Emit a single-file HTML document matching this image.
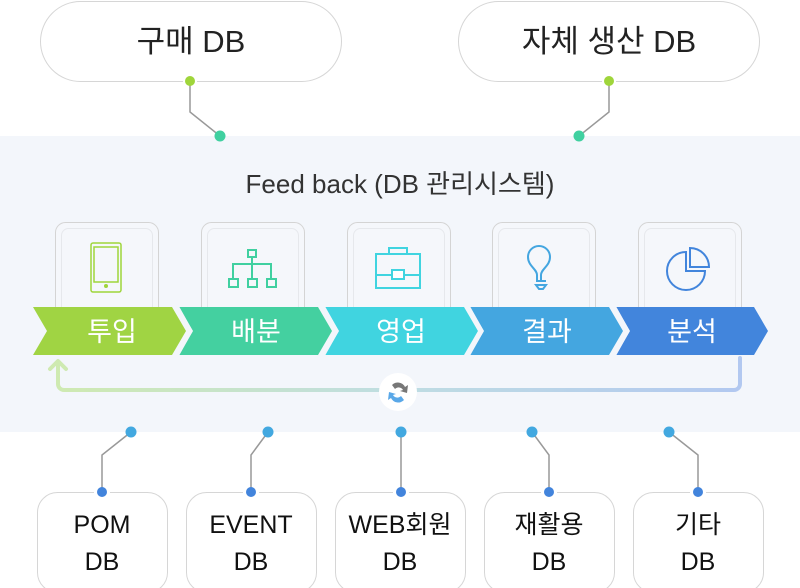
<!DOCTYPE html>
<html><head><meta charset="utf-8"><style>
html,body{margin:0;padding:0;background:#fff;}
svg{display:block;}
text{font-family:"Liberation Sans","Noto Sans CJK KR",sans-serif;}
</style></head><body>
<svg width="800" height="588" viewBox="0 0 800 588" xmlns="http://www.w3.org/2000/svg">
<defs>
<linearGradient id="lg" x1="0" x2="1" y1="0" y2="0">
<stop offset="0" stop-color="#cfeab0"/><stop offset="0.5" stop-color="#bfdde2"/><stop offset="1" stop-color="#b2c8f0"/>
</linearGradient>
</defs>
<rect x="0" y="136" width="800" height="296" fill="#f3f6fb"/>
<rect x="40.5" y="1.5" width="301" height="80" rx="40" fill="#fff" stroke="#d6d6d6"/>
<rect x="458.5" y="1.5" width="301" height="80" rx="40" fill="#fff" stroke="#d6d6d6"/>
<text x="191" y="52" font-size="31" text-anchor="middle" fill="#222">구매 DB</text>
<text x="609" y="52" font-size="31" text-anchor="middle" fill="#222">자체 생산 DB</text>
<rect x="183" y="78" width="14" height="7" fill="#fff"/><rect x="602" y="78" width="14" height="7" fill="#fff"/>
<polyline points="190,81 190,112 220,136" fill="none" stroke="#999" stroke-width="1.5"/>
<polyline points="609,81 609,112 579,136" fill="none" stroke="#999" stroke-width="1.5"/>
<circle cx="190" cy="81" r="5" fill="#9fd53b"/><circle cx="609" cy="81" r="5" fill="#9fd53b"/>
<circle cx="220" cy="136" r="5.5" fill="#40d0a0"/><circle cx="579" cy="136" r="5.5" fill="#40d0a0"/>
<text x="400" y="193" font-size="26" text-anchor="middle" fill="#333">Feed back (DB 관리시스템)</text>
<g fill="#f5f7fb" stroke="#d4d4d4">
<rect x="55.5" y="222.5" width="103" height="100" rx="10"/>
<rect x="201.5" y="222.5" width="103" height="100" rx="10"/>
<rect x="347.5" y="222.5" width="103" height="100" rx="10"/>
<rect x="492.5" y="222.5" width="103" height="100" rx="10"/>
<rect x="638.5" y="222.5" width="103" height="100" rx="10"/>
</g>
<g fill="none" stroke="#e6e8ec">
<rect x="61.5" y="228.5" width="91" height="90" rx="7"/>
<rect x="207.5" y="228.5" width="91" height="90" rx="7"/>
<rect x="353.5" y="228.5" width="91" height="90" rx="7"/>
<rect x="498.5" y="228.5" width="91" height="90" rx="7"/>
<rect x="644.5" y="228.5" width="91" height="90" rx="7"/>
</g>
<g fill="none" stroke="#9fd53b" stroke-width="1.5">
<rect x="91" y="243" width="30" height="49" rx="2"/><rect x="94" y="247" width="24" height="35"/>
</g><circle cx="106" cy="286" r="2" fill="#9fd53b"/>
<g fill="none" stroke="#40d0a0" stroke-width="2">
<rect x="248" y="250" width="8" height="7"/><rect x="229" y="279" width="9" height="8"/><rect x="248" y="279" width="9" height="8"/><rect x="267" y="279" width="9" height="8"/>
<polyline points="252,257 252,279"/><polyline points="233,279 233,264 271,264 271,279"/>
</g>
<g fill="none" stroke="#40d4e0" stroke-width="2">
<rect x="376" y="254" width="44" height="34"/><path d="M389,254 v-6 h18 v6"/><line x1="376" y1="275" x2="420" y2="275"/>
<rect x="392" y="270" width="12" height="9" fill="#fff"/>
</g>
<g fill="none" stroke="#44a6e0" stroke-width="2">
<path d="M537,281 v-6 c0,-6 -9,-9 -9,-18 a11,11 0 0 1 22,0 c0,9 -9,12 -9,18 v6 z"/><line x1="536" y1="281" x2="546" y2="281"/><path d="M536,285 h10 l-3,4 h-4z"/>
</g>
<g fill="none" stroke="#4285dc" stroke-width="2">
<path d="M686,252 a19,19 0 1 0 19,19 h-19 z"/><path d="M690,248 a19,19 0 0 1 19,19 h-19 z"/>
</g>
<polygon points="33,307 172,307 186,331 172,355 33,355 47,331" fill="#a0d443"/>
<polygon points="179,307 318,307 332,331 318,355 179,355 193,331" fill="#44d0a0"/>
<polygon points="325,307 464,307 478,331 464,355 325,355 339,331" fill="#40d4e0"/>
<polygon points="470,307 609,307 623,331 609,355 470,355 484,331" fill="#44a6e0"/>
<polygon points="616,307 754,307 768,331 754,355 616,355 630,331" fill="#4285dc"/>
<g fill="none" stroke="#f3f6fb" stroke-width="5" stroke-linejoin="miter">
<polyline points="176,306 190,331 176,356"/>
<polyline points="322,306 336,331 322,356"/>
<polyline points="467,306 481,331 467,356"/>
<polyline points="613,306 627,331 613,356"/>
</g>
<g font-size="27" fill="#fff" text-anchor="middle">
<text x="112" y="341">투입</text><text x="256" y="341">배분</text><text x="401" y="341">영업</text><text x="547" y="341">결과</text><text x="692" y="341">분석</text>
</g>
<path d="M740,358 V384 a6,6 0 0 1 -6,6 H64 a6,6 0 0 1 -6,-6 V362 M50,369 L58,361 L66,369" fill="none" stroke="url(#lg)" stroke-width="4" stroke-linecap="round" stroke-linejoin="round"/>
<circle cx="398" cy="392" r="19" fill="#fff"/>
<path d="M392,385 a8,8 0 0 1 13,2 l3,-2 -1,8 -7,-2 3,-1 a5,5 0 0 0 -8,-1z" fill="#777"/>
<path d="M404,400 a8,8 0 0 1 -13,-2 l-3,2 1,-8 7,2 -3,1 a5,5 0 0 0 8,1z" fill="#5aa8e8"/>
<g fill="none" stroke="#999" stroke-width="1.5">
<polyline points="131,432 102,455 102,492"/><polyline points="268,432 251,455 251,492"/><polyline points="401,432 401,492"/><polyline points="532,432 549,455 549,492"/><polyline points="669,432 698,455 698,492"/>
</g>
<g fill="#fff" stroke="#d6d6d6">
<rect x="37.5" y="492.5" width="130" height="100" rx="20"/>
<rect x="186.5" y="492.5" width="130" height="100" rx="20"/>
<rect x="335.5" y="492.5" width="130" height="100" rx="20"/>
<rect x="484.5" y="492.5" width="130" height="100" rx="20"/>
<rect x="633.5" y="492.5" width="130" height="100" rx="20"/>
</g>
<g fill="#fff"><rect x="94" y="488" width="16" height="8"/><rect x="243" y="488" width="16" height="8"/><rect x="393" y="488" width="16" height="8"/><rect x="541" y="488" width="16" height="8"/><rect x="690" y="488" width="16" height="8"/></g>
<g fill="#42a8e0"><circle cx="131" cy="432" r="5.5"/><circle cx="268" cy="432" r="5.5"/><circle cx="401" cy="432" r="5.5"/><circle cx="532" cy="432" r="5.5"/><circle cx="669" cy="432" r="5.5"/></g>
<g fill="#4284dc"><circle cx="102" cy="492" r="5"/><circle cx="251" cy="492" r="5"/><circle cx="401" cy="492" r="5"/><circle cx="549" cy="492" r="5"/><circle cx="698" cy="492" r="5"/></g>
<g font-size="25" fill="#111" text-anchor="middle">
<text x="102" y="533">POM</text><text x="102" y="570">DB</text>
<text x="251" y="533">EVENT</text><text x="251" y="570">DB</text>
<text x="400" y="533">WEB회원</text><text x="400" y="570">DB</text>
<text x="549" y="533">재활용</text><text x="549" y="570">DB</text>
<text x="698" y="533">기타</text><text x="698" y="570">DB</text>
</g>
</svg>
</body></html>
